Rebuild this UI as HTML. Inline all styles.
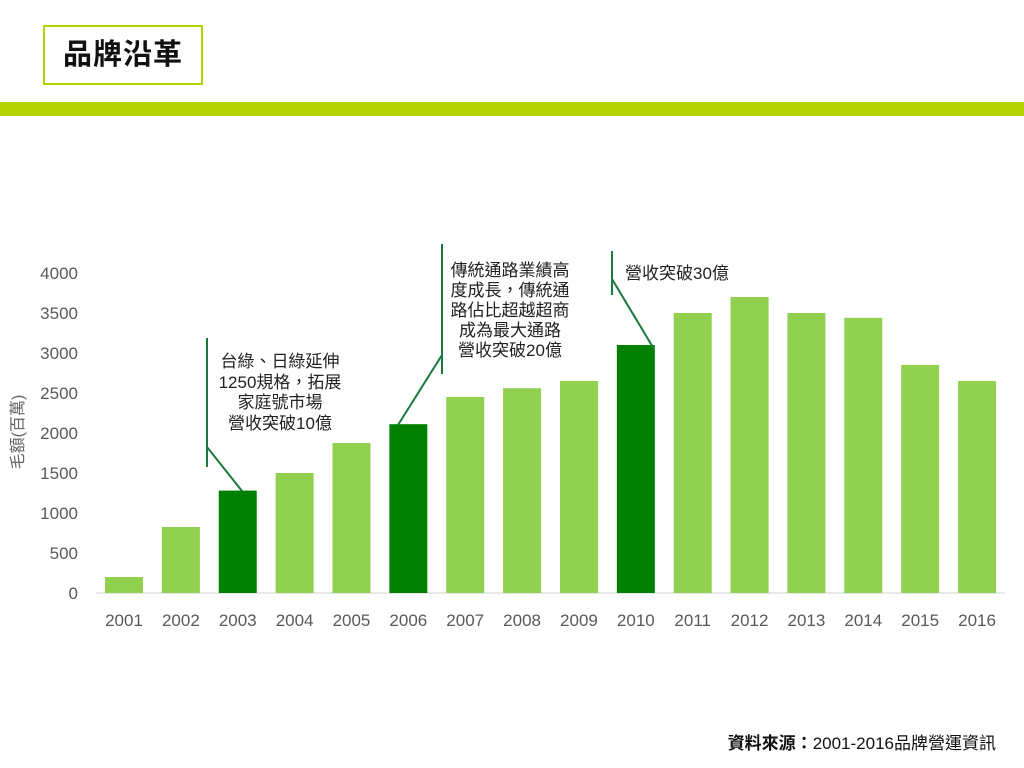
<!DOCTYPE html>
<html><head><meta charset="utf-8">
<style>
body{margin:0;width:1024px;height:768px;background:#fff;overflow:hidden;font-family:"Liberation Sans","Noto Sans CJK TC",sans-serif;position:relative}
.title{position:absolute;left:43px;top:25px;width:156px;height:56px;border:2px solid #b5d300;font-size:29px;font-weight:bold;line-height:56px;text-align:center;color:#111;letter-spacing:1px}
.band{position:absolute;left:0;top:102px;width:1024px;height:14px;background:#b5d300}
.src{position:absolute;right:28px;top:729px;font-size:17px;color:#111}
</style></head><body>
<div class="title">品牌沿革</div>
<div class="band"></div>
<svg id="chart" width="1024" height="768" style="position:absolute;left:0;top:0">
<line x1="96" y1="593" x2="1005" y2="593" stroke="#d0d0d0" stroke-width="1"/>
<text x="0" y="0" transform="translate(23,432) rotate(-90)" text-anchor="middle" font-size="16" fill="#666" font-family="Liberation Sans,Noto Sans CJK TC,sans-serif">毛額(百萬)</text>
<g id="bars"></g><g id="xt"></g><g id="yt"></g>
<g stroke="#1a7a3a" stroke-width="2" fill="none">
<polyline points="207,338 207,467"/><line x1="207" y1="447" x2="242" y2="491"/>
<polyline points="442,244 442,374"/><line x1="442" y1="355" x2="398" y2="425"/>
<polyline points="612,251 612,295"/><line x1="612" y1="279" x2="654" y2="349"/>
</g>
<g font-size="17" fill="#222" text-anchor="middle" font-family="Liberation Sans,Noto Sans CJK TC,sans-serif">
<text><tspan x="280" y="367">台綠、日綠延伸</tspan><tspan x="280" y="388">1250規格，拓展</tspan><tspan x="280" y="408">家庭號市場</tspan><tspan x="280" y="429">營收突破10億</tspan></text>
<text><tspan x="510" y="276">傳統通路業績高</tspan><tspan x="510" y="296">度成長，傳統通</tspan><tspan x="510" y="316">路佔比超越超商</tspan><tspan x="510" y="336">成為最大通路</tspan><tspan x="510" y="356">營收突破20億</tspan></text>
<text x="625" y="279" text-anchor="start">營收突破30億</text>
</g>
</svg>
<div class="src"><b>資料來源：</b>2001-2016品牌營運資訊</div>
<script>
const years=["2001","2002","2003","2004","2005","2006","2007","2008","2009","2010","2011","2012","2013","2014","2015","2016"];
const revenue=[200,825,1280,1500,1875,2110,2450,2560,2650,3100,3500,3700,3500,3440,2850,2650];
const highlight=["2003","2006","2010"];
const yTicks=[0,500,1000,1500,2000,2500,3000,3500,4000];
const NS="http://www.w3.org/2000/svg";
const y0=593,yMax=4000,plotH=320,x0=124,step=56.87,bw=38;
const yS=v=>y0-v/yMax*plotH, xS=i=>x0+i*step;
const bars=document.getElementById('bars'),xt=document.getElementById('xt'),yt=document.getElementById('yt');
years.forEach((yr,i)=>{
 const r=document.createElementNS(NS,'rect');
 r.setAttribute('x',xS(i)-bw/2);r.setAttribute('y',yS(revenue[i]));
 r.setAttribute('width',bw);r.setAttribute('height',y0-yS(revenue[i]));
 r.setAttribute('fill',highlight.includes(yr)?'#008000':'#92d050');
 
 
 bars.appendChild(r);
 const t=document.createElementNS(NS,'text');
 t.setAttribute('x',xS(i));t.setAttribute('y',626);t.setAttribute('text-anchor','middle');
 t.setAttribute('font-size','17');t.setAttribute('fill','#595959');t.textContent=yr;
 
 
 xt.appendChild(t);
});
yTicks.forEach(v=>{
 const t=document.createElementNS(NS,'text');
 t.setAttribute('x',78);t.setAttribute('y',yS(v)+6);t.setAttribute('text-anchor','end');
 t.setAttribute('font-size','17');t.setAttribute('fill','#595959');t.textContent=v;
 
 
 yt.appendChild(t);
});
</script>
</body></html>
